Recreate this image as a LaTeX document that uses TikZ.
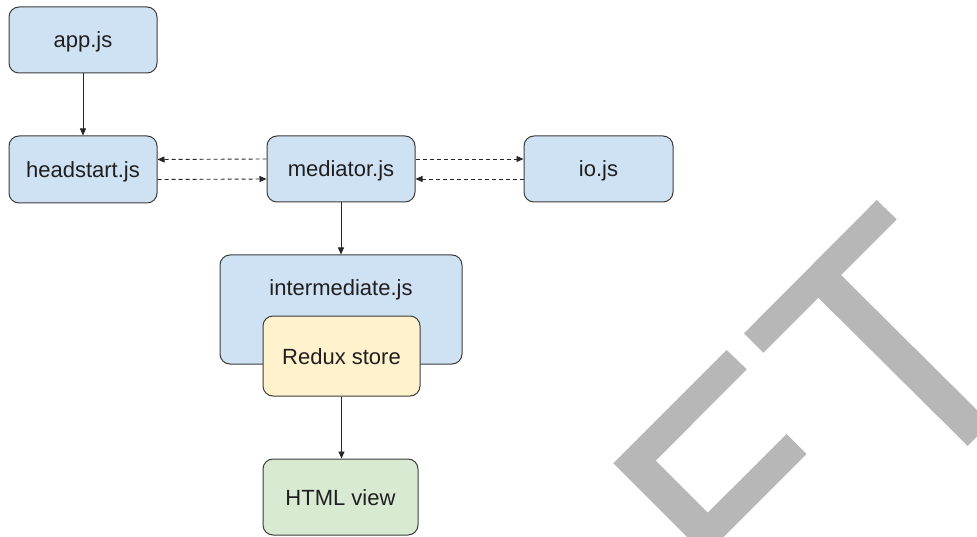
\documentclass[tikz,border=0pt]{standalone}
\usepackage{fontspec}
\setmainfont{Liberation Sans}
\usetikzlibrary{arrows.meta}
\definecolor{boxblue}{HTML}{CFE2F3}
\definecolor{boxyellow}{HTML}{FFF2CC}
\definecolor{boxgreen}{HTML}{D9EAD3}
\definecolor{edgecol}{HTML}{3C3C3C}
\definecolor{wmgray}{HTML}{B7B7B7}
\begin{document}
\begin{tikzpicture}[x=1pt,y=-1pt,
  box/.style={draw=edgecol,line width=1pt,rounded corners=10pt,inner sep=0pt,
    font=\fontsize{22}{26}\selectfont,text=black!88,text height=16pt,text depth=0pt},
  lbl/.style={inner sep=0pt,font=\fontsize{22}{26}\selectfont,text=black!88,text height=16pt,text depth=0pt},
  arr/.style={draw=black!85,line width=0.9pt,-{Triangle[length=7pt,width=6pt]}},
  darr/.style={arr,dash pattern=on 4pt off 3pt}]
\useasboundingbox (0,0) rectangle (977,537);
\fill[white] (0,0) rectangle (977,537);
% watermark
\begin{scope}
\clip (0,0) rectangle (977,537);
\fill[wmgray] (876.7,200) -- (896.7,219.3) -- (841,275) -- (990.3,423.3) -- (967.7,446)
  -- (818.3,297.7) -- (763.3,352.7) -- (744,333.3) -- cycle;
\fill[wmgray] (726.7,350) -- (746.7,369.3) -- (655.7,460.7) -- (707.7,512.7) -- (786.7,434)
  -- (806.7,454) -- (705.3,555.3) -- (613.3,463.3) -- cycle;
\end{scope}
% nodes
\node[box,fill=boxblue,minimum width=148pt,minimum height=66pt] (app) at (83,40) {app.js};
\node[box,fill=boxblue,minimum width=148pt,minimum height=67pt] (head) at (83,169.5) {headstart.js};
\node[box,fill=boxblue,minimum width=148pt,minimum height=66pt] (med) at (341,169) {mediator.js};
\node[box,fill=boxblue,minimum width=149pt,minimum height=66pt] (io) at (598.5,169) {io.js};
\node[box,fill=boxblue,minimum width=242pt,minimum height=109pt] (inter) at (341,309.5) {};
\node[lbl] (intertxt) at (341,287) {intermediate.js};
\node[box,fill=boxyellow,minimum width=157pt,minimum height=80pt] (redux) at (341.5,356) {Redux store};
\node[box,fill=boxgreen,minimum width=155pt,minimum height=76pt] (html) at (340.5,497) {HTML view};
% connectors
\draw[arr] (app) -- (head);
\draw[darr] ([yshift=10pt]med.west) -- ([yshift=10pt]head.east);
\draw[darr] ([yshift=-10pt]head.east) -- ([yshift=-10pt]med.west);
\draw[darr] ([yshift=10pt]med.east) -- ([yshift=10pt]io.west);
\draw[darr] ([yshift=-10pt]io.west) -- ([yshift=-10pt]med.east);
\draw[arr] (med.south) -- (inter.north);
\draw[arr] (redux.south) -- (html.north -| redux.south);
\end{tikzpicture}
\end{document}
